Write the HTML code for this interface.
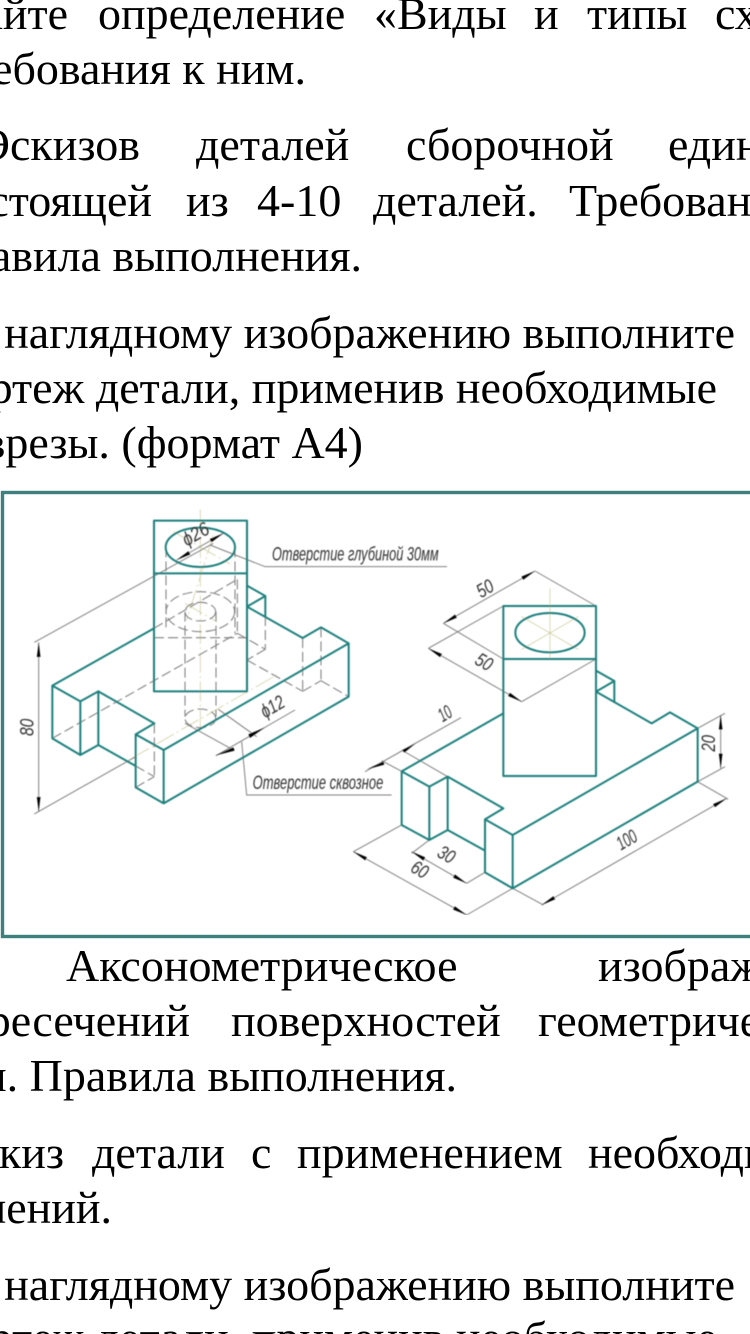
<!DOCTYPE html>
<html><head><meta charset="utf-8"><style>
html,body{margin:0;padding:0;background:#fff}
#p{position:relative;width:750px;height:1334px;overflow:hidden;background:#fff;font-family:"Liberation Serif","Noto Serif CJK SC",serif;font-size:46px;color:#000}
#p span{position:absolute;white-space:nowrap;line-height:46px}
svg{position:absolute;left:0;top:0}
.t{fill:none;stroke:#1f807d;stroke-width:6;stroke-linecap:round;stroke-linejoin:round}
.h{fill:none;stroke:#808080;stroke-width:3.2;stroke-dasharray:30 12}
.g{fill:none;stroke:#808080;stroke-width:3}
.c{fill:none;stroke:#d2d2a8;stroke-width:2.5;stroke-dasharray:60 10 6 10}
.a{fill:#000;stroke:none}
text{font-family:"Liberation Sans",sans-serif;font-style:italic;fill:#333}
</style></head><body><div id="p">
<span style="right:682px;top:-9px">Дайте</span><span style="left:98px;top:-9px">определение</span><span style="left:374px;top:-9px">«Виды</span><span style="left:534px;top:-9px">и</span><span style="left:587px;top:-9px">типы</span><span style="left:715px;top:-9px">схем</span>
<span style="right:444px;top:46px">требования к ним.</span>
<span style="right:610px;top:122px">Эскизов</span><span style="left:196px;top:122px">деталей</span><span style="left:406px;top:122px">сборочной</span><span style="left:668px;top:122px">единицы</span>
<span style="right:598px;top:178px">состоящей</span><span style="left:186px;top:178px">из</span><span style="left:257px;top:178px">4-10</span><span style="left:373px;top:178px">деталей.</span><span style="left:569px;top:178px">Требования</span>
<span style="right:388px;top:233px">правила выполнения.</span>
<span style="right:15px;top:310px">По наглядному изображению выполните</span>
<span style="right:33px;top:365px">чертеж детали, применив необходимые</span>
<span style="right:387px;top:420px">врезы. (формат А4)</span>
<span style="left:66px;top:943px">Аксонометрическое</span><span style="left:598px;top:943px">изображение</span>
<span style="right:560px;top:998px">пересечений</span><span style="left:231px;top:998px">поверхностей</span><span style="left:538px;top:998px">геометрических</span>
<span style="right:293px;top:1053px">ми. Правила выполнения.</span>
<span style="right:686px;top:1130px">Эскиз</span><span style="left:92px;top:1130px">детали</span><span style="left:251px;top:1130px">с</span><span style="left:297px;top:1130px">применением</span><span style="left:588px;top:1130px">необходимых</span>
<span style="right:638px;top:1185px">применений.</span>
<span style="right:15px;top:1262px">По наглядному изображению выполните</span>
<span style="right:33px;top:1315px">чертеж детали, применив необходимые</span>

<svg width="750" height="1334" viewBox="0 0 750 1334">
<defs>
<marker id="m" viewBox="0 0 12 6" refX="12" refY="3" markerWidth="44" markerHeight="22" markerUnits="userSpaceOnUse" orient="auto-start-reverse"><path class="a" d="M0 1.5L12 3L0 4.5Z"/></marker>
<filter id="b" x="0" y="0" width="100%" height="100%"><feGaussianBlur stdDeviation="0.4"/></filter>
</defs>
<rect x="0" y="491" width="750" height="448" fill="#fff"/>
<g filter="url(#b)">
<g transform="translate(0,490) scale(.33333)">
<path class="c" d="M601 58V720M395 805L830 555M520 125L690 222M640 135L560 390M555 340L650 395"/>
<path class="h" d="M498 172V420M705 172V430M555 365V680M648 365V680M462 443H741M157 745L712 430M712 430L796 478M796 378V478M796 478L741 510M741 510L908 604M908 444V604M963 412V572M908 604L963 572M963 572L1046 620M712 268V430M462 415L712 268M463 700V860M407 892L463 860M407 828L463 860"/>
<ellipse class="h" cx="601" cy="365" rx="103" ry="60"/>
<ellipse class="h" cx="601" cy="365" rx="46" ry="28"/>
<ellipse class="h" cx="601" cy="685" rx="46" ry="28"/>
<path class="g" d="M103 457L640 160M103 972L407 800M655 658L770 740M555 700L700 780M630 165L795 230H1341M725 755L740 915H1175"/>
<path class="g" d="M116 457V965" marker-start="url(#m)" marker-end="url(#m)"/>
<path class="g" d="M530 210L670 130" marker-start="url(#m)" marker-end="url(#m)"/>
<path class="g" d="M648 797L885 660"/>
<path class="a" d="M700 772L645 797L704 782ZM745 733L795 712L750 744Z"/>
<rect class="t" x="462" y="92" width="279" height="512"/>
<path class="t" d="M462 250H741"/>
<ellipse class="t" cx="601" cy="172" rx="104" ry="59"/>
<path class="t" d="M157 587L462 415M157 587V745L241 795V634L157 587M241 634L295 604V765L241 795M295 604L463 700L407 733V892L491 940V780L407 733M295 765L407 828M491 780L1046 460V620L491 940M1046 460L963 412L908 444L741 350L796 318V378M796 318L741 287"/>
<text transform="translate(100,738) rotate(-90)" font-size="58" textLength="52" lengthAdjust="spacingAndGlyphs">80</text>
<text transform="translate(560,170) rotate(-30)" font-size="58" textLength="84" lengthAdjust="spacingAndGlyphs">ϕ26</text>
<text transform="translate(795,685) rotate(-30)" font-size="58" textLength="74" lengthAdjust="spacingAndGlyphs">ϕ12</text>
<text x="816" y="212" font-size="58" textLength="500" lengthAdjust="spacingAndGlyphs">Отверстие глубиной 30мм</text>
<text x="758" y="897" font-size="58" textLength="392" lengthAdjust="spacingAndGlyphs">Отверстие сквозное</text>
</g>
<g transform="translate(375,490) scale(.33333)">
<path class="c" d="M525 295V505M440 380L610 478M440 478L610 380" style="stroke-dasharray:none"/>
<path class="g" d="M480 243L663 348M205 400L385 507M160 475L385 348M440 635L663 507M80 780L218 860M20 812L80 844M968 715L1050 670M968 875L1050 830M413 1195L505 1245M968 875L1060 928M110 1090L163 1050M275 1180L330 1147M-65 1085L80 1005M275 1275L413 1195"/>
<path class="g" d="M205 400L480 243" marker-start="url(#m)" marker-end="url(#m)"/>
<path class="g" d="M160 475L440 635" marker-start="url(#m)" marker-end="url(#m)"/>
<path class="g" d="M-30 845L258 683"/>
<path class="a" d="M122 760L82 780L88 788ZM-25 838L25 815L28 824Z"/>
<path class="g" d="M1037 675V835" marker-start="url(#m)" marker-end="url(#m)"/>
<path class="g" d="M500 1245L1055 925" marker-start="url(#m)" marker-end="url(#m)"/>
<path class="g" d="M110 1085L275 1180" marker-start="url(#m)" marker-end="url(#m)"/>
<path class="g" d="M-65 1085L275 1275" marker-start="url(#m)" marker-end="url(#m)"/>
<rect class="t" x="385" y="348" width="278" height="510"/>
<path class="t" d="M385 507H663"/>
<ellipse class="t" cx="525" cy="428" rx="104" ry="59"/>
<path class="t" d="M80 844L385 670M80 844V1005L163 1050V890L80 844M163 890L218 860V1020L163 1050M218 860L385 955L330 988V1147L413 1195V1035L330 988M218 1020L330 1082M413 1035L968 715V875L413 1195M968 715L885 667L830 700L663 605L718 573V635M718 573L663 542"/>
<text transform="translate(318,325) rotate(-30)" font-size="58" textLength="50" lengthAdjust="spacingAndGlyphs">50</text>
<text transform="translate(296,520) rotate(30)" font-size="58" textLength="50" lengthAdjust="spacingAndGlyphs">50</text>
<text transform="translate(203,697) rotate(-30)" font-size="58" textLength="38" lengthAdjust="spacingAndGlyphs">10</text>
<text transform="translate(1020,785) rotate(-90)" font-size="58" textLength="50" lengthAdjust="spacingAndGlyphs">20</text>
<text transform="translate(738,1082) rotate(-30)" font-size="58" textLength="62" lengthAdjust="spacingAndGlyphs">100</text>
<text transform="translate(183,1098) rotate(30)" font-size="58" textLength="50" lengthAdjust="spacingAndGlyphs">30</text>
<text transform="translate(103,1143) rotate(30)" font-size="58" textLength="50" lengthAdjust="spacingAndGlyphs">60</text>
</g>
</g>
<rect x="2.5" y="492.5" width="760" height="444" fill="none" stroke="#3f807e" stroke-width="3.4"/>
</svg>
</div></body></html>
